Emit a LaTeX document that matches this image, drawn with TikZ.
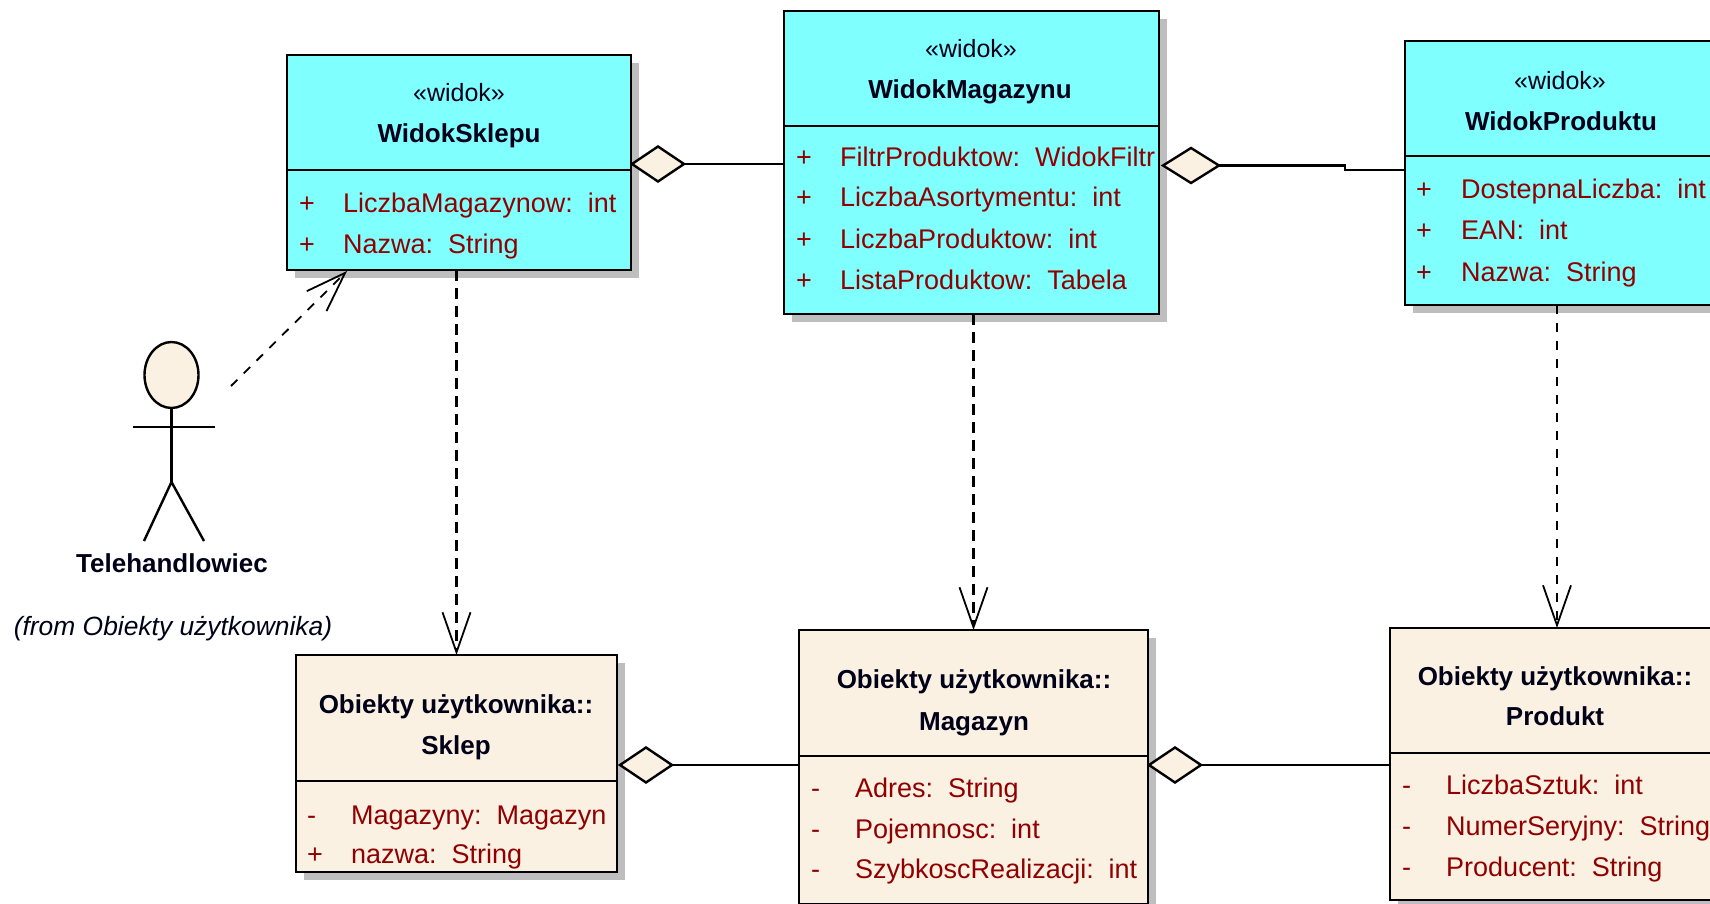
\documentclass[tikz,border=0pt]{standalone}
\usepackage{fontspec}
\setmainfont{Liberation Sans}
\usetikzlibrary{arrows.meta,shapes.geometric,shadows}
\definecolor{viewcyan}{HTML}{80FFFF}
\definecolor{cream}{HTML}{FBF1E3}
\definecolor{shadowgray}{HTML}{BEBEBE}
\definecolor{attrred}{HTML}{900000}
\definecolor{inkdark}{HTML}{000018}
\newcommand{\attrrow}[6]{%
  \node[attrtext] (#1m) at (#2,#4) {#5};
  \node[attrtext] (#1t) at (#3,#4) {#6};}
\tikzset{
  umlbox/.style={draw=black,line width=2.8pt,rectangle,inner sep=0pt,outer sep=0pt,
    copy shadow={shadow xshift=8pt,shadow yshift=-8pt,fill=shadowgray,draw=none,opacity=1}},
  viewbox/.style={umlbox,fill=viewcyan},
  objbox/.style={umlbox,fill=cream},
  divider/.style={draw=black,line width=2.8pt},
  attrtext/.style={anchor=base west,inner sep=0pt,text=attrred,font=\fontsize{27}{27}\selectfont},
  stereo/.style={anchor=base,inner sep=0pt,text=inkdark,font=\fontsize{25}{25}\selectfont},
  boxname/.style={anchor=base,inner sep=0pt,text=inkdark,font=\bfseries\fontsize{26}{26}\selectfont},
  aggr/.style={diamond,draw=black,fill=cream,line width=2.4pt,aspect=1.5,inner sep=0pt,outer sep=0pt,minimum width=52pt,minimum height=35pt},
  link/.style={draw=black,line width=2.8pt},
  depend/.style={draw=black,line width=2.8pt,dash pattern=on 11pt off 7pt,-{Straight Barb[length=40pt,width=28pt,line width=1.8pt]}},
  dependthin/.style={draw=black,line width=1.8pt,dash pattern=on 9pt off 9pt,-{Straight Barb[length=40pt,width=28pt,line width=1.8pt]}},
  limb/.style={draw=black,line width=2.4pt},
}
\begin{document}
\begin{tikzpicture}[x=1pt,y=-1pt]
\useasboundingbox (0,0) rectangle (1710,904);
\clip (0,0) rectangle (1710,904);
\fill[white] (0,0) rectangle (1710,904);

% boxes
\node[viewbox,minimum width=344pt,minimum height=215pt] (WS) at (459,162.5) {};
\node[viewbox,minimum width=375pt,minimum height=303pt] (WM) at (971.5,162.5) {};
\node[viewbox,minimum width=306pt,minimum height=264pt] (WP) at (1558,173) {};
\node[objbox,minimum width=321pt,minimum height=217pt] (OS) at (456.5,763.5) {};
\node[objbox,minimum width=349pt,minimum height=274pt] (OM) at (973.5,767) {};
\node[objbox,minimum width=334pt,minimum height=272pt] (OP) at (1557,764) {};

% dividers
\draw[divider] (WS.west |- 0,170) -- (WS.east |- 0,170);
\draw[divider] (WM.west |- 0,126) -- (WM.east |- 0,126);
\draw[divider] (WP.west |- 0,156) -- (WP.east |- 0,156);
\draw[divider] (OS.west |- 0,781) -- (OS.east |- 0,781);
\draw[divider] (OM.west |- 0,756) -- (OM.east |- 0,756);
\draw[divider] (OP.west |- 0,753) -- (OP.east |- 0,753);

% WidokSklepu
\node[stereo] (WSs) at (459,102) {«widok»};
\node[boxname] (WSn) at (459,143) {WidokSklepu};
\attrrow{WSa}{299}{343}{213}{+}{LiczbaMagazynow:\ \ int}
\attrrow{WSb}{299}{343}{253}{+}{Nazwa:\ \ String}

% WidokMagazynu
\node[stereo] (WMs) at (971,58) {«widok»};
\node[boxname] (WMn) at (970,99) {WidokMagazynu};
\attrrow{WMa}{796}{840}{167}{+}{FiltrProduktow:\ \ WidokFiltr}
\attrrow{WMb}{796}{840}{207}{+}{LiczbaAsortymentu:\ \ int}
\attrrow{WMc}{796}{840}{248}{+}{LiczbaProduktow:\ \ int}
\attrrow{WMd}{796}{840}{289}{+}{ListaProduktow:\ \ Tabela}

% WidokProduktu
\node[stereo] (WPs) at (1560,90) {«widok»};
\node[boxname] (WPn) at (1561,131) {WidokProduktu};
\attrrow{WPa}{1416}{1461}{199}{+}{DostepnaLiczba:\ \ int}
\attrrow{WPb}{1416}{1461}{239}{+}{EAN:\ \ int}
\attrrow{WPc}{1416}{1461}{281}{+}{Nazwa:\ \ String}

% Sklep
\node[boxname] (OSa) at (456,713) {Obiekty użytkownika::};
\node[boxname] (OSn) at (456,754) {Sklep};
\attrrow{OSb}{307}{351}{824}{-}{Magazyny:\ \ Magazyn}
\attrrow{OSc}{307}{351}{863}{+}{nazwa:\ \ String}

% Magazyn
\node[boxname] (OMa) at (974,688) {Obiekty użytkownika::};
\node[boxname] (OMn) at (974,730) {Magazyn};
\attrrow{OMb}{811}{855}{797}{-}{Adres:\ \ String}
\attrrow{OMc}{811}{855}{838}{-}{Pojemnosc:\ \ int}
\attrrow{OMd}{811}{855}{878}{-}{SzybkoscRealizacji:\ \ int}

% Produkt
\node[boxname] (OPa) at (1555,685) {Obiekty użytkownika::};
\node[boxname] (OPn) at (1555,725) {Produkt};
\attrrow{OPb}{1402}{1446}{794}{-}{LiczbaSztuk:\ \ int}
\attrrow{OPc}{1402}{1446}{835}{-}{NumerSeryjny:\ \ String}
\attrrow{OPd}{1402}{1446}{876}{-}{Producent:\ \ String}

% aggregation diamonds
\node[aggr] (d1) at (658,164) {};
\node[aggr,minimum width=56pt] (d2) at (1191,165.5) {};
\node[aggr] (d3) at (646,765) {};
\node[aggr] (d4) at (1175,765) {};

% aggregation connectors
\draw[link] (d1.east) -- (d1.east -| WM.west);
\draw[link] (d2.east) -- (d2.east -| 1345,0) -- (1345,170) -- (1345,170 -| WP.west);
\draw[link] (d3.east) -- (d3.east -| OM.west);
\draw[link] (d4.east) -- (d4.east -| OP.west);

% dependencies
\draw[depend] (OS.north |- WS.south) -- (OS.north);
\draw[depend] (OM.north |- WM.south) -- (OM.north);
\draw[dependthin] (OP.north |- WP.south) -- (OP.north);

% actor
\node[ellipse,draw=black,fill=cream,line width=2.4pt,minimum width=54pt,minimum height=66pt,inner sep=0pt,outer sep=0pt] (head) at (171.5,375) {};
\coordinate (shoulderL) at (133,427);
\coordinate (shoulderR) at (215,427);
\coordinate (hip) at (171.5,482);
\coordinate (footL) at (144,541);
\coordinate (footR) at (204,541);
\draw[limb] (head.south) -- (hip);
\draw[limb] (shoulderL) -- (shoulderR);
\draw[limb] (footL) -- (hip) -- (footR);
\node[boxname] (actorname) at (172,572) {Telehandlowiec};
\node[anchor=base,inner sep=0pt,text=inkdark,font=\itshape\fontsize{26.4}{26.4}\selectfont] (actorfrom) at (173,635) {(from Obiekty użytkownika)};

\coordinate (depstart) at (231,386);
\coordinate (depend) at (347,271);
\draw[dependthin] (depstart) -- (depend);
\end{tikzpicture}
\end{document}
